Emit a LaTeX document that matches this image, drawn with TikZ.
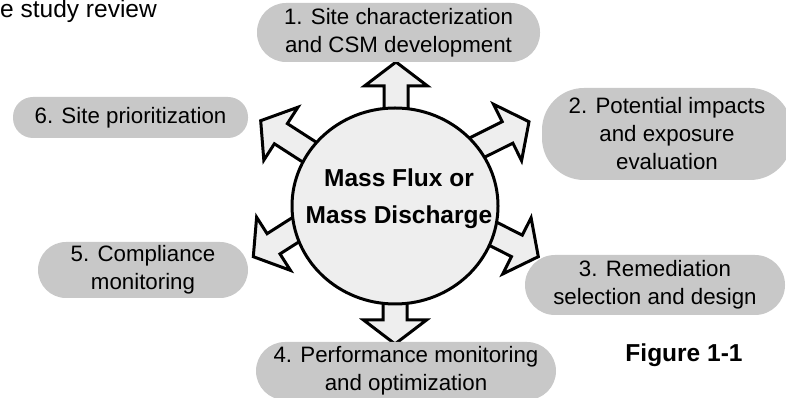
\documentclass[tikz,border=0pt]{standalone}
\usepackage{fontspec}
\setmainfont{Liberation Sans}
\usetikzlibrary{shapes.geometric}
\definecolor{boxgray}{RGB}{200,200,200}
\definecolor{hubfill}{RGB}{238,238,238}
\tikzset{
  box/.style={fill=boxgray, draw=none, align=center, inner sep=0pt,
    font=\fontsize{22.3}{28}\selectfont},
  arrowshape/.style={draw=black, fill=hubfill, line width=3pt, line join=miter},
  hub/.style={ellipse, draw=black, fill=hubfill, line width=3pt, inner sep=0pt},
  hubtext/.style={align=center, font=\fontsize{24.5}{37}\selectfont\bfseries},
}
\newcommand\blockarr[4]{%
  \begin{scope}[shift={(#1,#2)},rotate=#3]
    \draw[arrowshape] (0,0) -- (-24,31.5) -- (-24,12) -- (-#4,12) -- (-#4,-12)
      -- (-24,-12) -- (-24,-31.5) -- cycle;
  \end{scope}}
\begin{document}
\begin{tikzpicture}[x=1pt,y=1pt]
\clip (0,0) rectangle (786,398);
\fill[white] (0,0) rectangle (786,398);
% arrows
\blockarr{396}{336}{90}{143}
\blockarr{395}{54}{-90}{139}
\blockarr{260.7}{277.3}{147.2}{158}
\blockarr{529}{276.3}{26.5}{157}
\blockarr{253.3}{141.3}{212.5}{150}
\blockarr{538.3}{141.3}{-26.8}{152}
% hub
\node[hub, minimum width=206, minimum height=196] (hubc) at (395,192) {};
\node[hubtext] (hubt) at (399,199.5) {Mass Flux or\\Mass Discharge};
% boxes
\node[box, minimum width=283, minimum height=59, rounded corners=29] (b1) at (398.5,365.5) {1. Site characterization\\and CSM development};
\node[box, minimum width=250, minimum height=92, rounded corners=42] (b2) at (667,264) {2. Potential impacts\\and exposure\\evaluation};
\node[box, minimum width=260, minimum height=60, rounded corners=30] (b3) at (655,113) {3. Remediation\\selection and design};
\node[box, minimum width=300, minimum height=58, rounded corners=29] (b4) at (406,27) {4. Performance monitoring\\and optimization};
\node[box, minimum width=210, minimum height=56, rounded corners=28] (b5) at (143,128) {5. Compliance\\monitoring};
\node[box, minimum width=235, minimum height=41, rounded corners=20] (b6) at (130.5,280.5) {6. Site prioritization};
% texts
\node[anchor=base west, inner sep=0pt, font=\fontsize{24.5}{30}\selectfont] (cap) at (0,380) {e study review};
\node[font=\fontsize{24.5}{30}\selectfont\bfseries, inner sep=0pt] (fig) at (684,43) {Figure 1-1};
\end{tikzpicture}
\end{document}
